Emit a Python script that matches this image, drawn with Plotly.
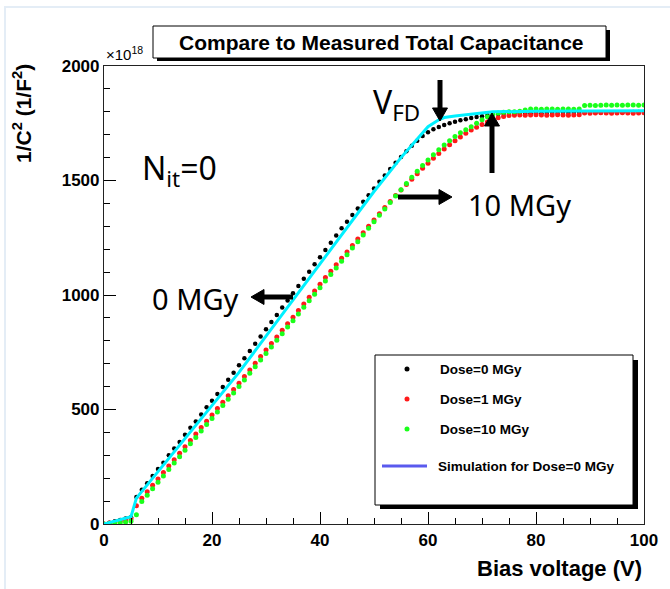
import plotly.graph_objects as go

# ---------------- data ----------------
voltage = list(range(0, 101))

dose0 = [0, 6, 12, 18, 24, 30, 118, 150, 178, 210, 240, 268, 300, 330, 358, 390, 420, 448, 478, 510,
         538, 568, 598, 630, 661, 693, 724, 756, 787, 819, 850, 882, 913, 945, 976, 1008, 1039, 1071,
         1102, 1134, 1165, 1197, 1228, 1260, 1291, 1320, 1349, 1378, 1407, 1436, 1465, 1494, 1522,
         1550, 1577, 1603, 1628, 1652, 1674, 1694, 1711, 1724, 1734, 1742, 1750, 1757, 1763, 1768,
         1773, 1777, 1781, 1785, 1788, 1790, 1791, 1792, 1792, 1793, 1793, 1794, 1794, 1794, 1795,
         1795, 1795, 1796, 1796, 1796, 1796, 1797, 1797, 1797, 1797, 1798, 1798, 1798, 1798, 1798,
         1799, 1799, 1799]

dose1 = [0, 4, 8, 12, 16, 22, 80, 112, 141, 169, 197, 225, 253, 281, 309, 337, 365, 393, 421, 449,
         476, 504, 532, 560, 587, 615, 644, 673, 702, 731, 760, 788, 817, 846, 875, 903, 932, 961,
         990, 1018, 1047, 1076, 1104, 1132, 1160, 1188, 1216, 1244, 1272, 1300, 1328, 1355, 1382,
         1408, 1434, 1458, 1482, 1506, 1530, 1553, 1575, 1597, 1618, 1638, 1656, 1674, 1690, 1706,
         1720, 1733, 1745, 1756, 1766, 1774, 1780, 1784, 1785, 1786, 1785, 1786, 1787, 1786, 1785,
         1786, 1787, 1786, 1785, 1786, 1787, 1795, 1794, 1795, 1796, 1795, 1794, 1795, 1796, 1795,
         1794, 1795, 1796]

dose10 = [0, 2, 4, 6, 8, 12, 40, 98, 126, 154, 182, 210, 238, 266, 294, 322, 350, 378, 406, 434,
          461, 489, 517, 545, 572, 600, 629, 658, 687, 716, 745, 773, 802, 831, 860, 888, 917, 946,
          975, 1003, 1032, 1061, 1090, 1118, 1147, 1176, 1205, 1233, 1262, 1291, 1320, 1348, 1376,
          1404, 1432, 1460, 1487, 1514, 1540, 1565, 1590, 1612, 1634, 1655, 1674, 1692, 1708, 1722,
          1735, 1750, 1765, 1778, 1788, 1795, 1798, 1800, 1800, 1802, 1808, 1812, 1812, 1811, 1812,
          1812, 1811, 1812, 1812, 1811, 1812, 1828, 1829, 1828, 1829, 1830, 1829, 1830, 1829, 1830,
          1830, 1829, 1830]

sim_v = [0, 5, 6, 10, 15, 20, 25, 30, 35, 40, 45, 50, 55, 60, 62, 63, 65, 70, 72, 80, 90, 100]
sim_val = [0, 32, 113, 228, 372, 516, 662, 820, 978, 1136, 1294, 1452, 1600, 1735, 1765, 1775,
           1782, 1796, 1800, 1802, 1804, 1805]

legend_labels = ["Dose=0 MGy", "Dose=1 MGy", "Dose=10 MGy", "Simulation for Dose=0 MGy"]

# ---------------- geometry helpers (layout only) ----------------
W, H = 670, 589
L, R, T, B = 104, 644, 66, 524


def px(x):
    return (x - L) / (R - L)


def py(y):
    return (B - y) / (B - T)


fig = go.Figure()
fig.add_trace(go.Scatter(x=voltage, y=dose0, mode="markers", name=legend_labels[0],
                         marker=dict(color="black", size=4.5)))
fig.add_trace(go.Scatter(x=voltage, y=dose1, mode="markers", name=legend_labels[1],
                         marker=dict(color="#ff1a1a", size=5)))
fig.add_trace(go.Scatter(x=voltage, y=dose10, mode="markers", name=legend_labels[2],
                         marker=dict(color="#1aff1a", size=5)))
fig.add_trace(go.Scatter(x=sim_v, y=sim_val, mode="lines", name=legend_labels[3],
                         line=dict(color="#00f0ff", width=3)))

tickfont = dict(family="Liberation Sans", size=17, color="black", weight="bold")

fig.update_layout(
    width=W, height=H,
    margin=dict(l=L, r=W - R, t=T, b=H - B),
    paper_bgcolor="white", plot_bgcolor="white",
    showlegend=False,
    xaxis=dict(range=[0, 100], dtick=20, tick0=0, ticks="inside", ticklen=12, tickwidth=1,
               tickcolor="black", showgrid=False, zeroline=False, showline=True,
               linecolor="#222", linewidth=1.2, mirror=True, tickfont=tickfont,
               minor=dict(dtick=5, ticks="inside", ticklen=6, tickcolor="black", showgrid=False)),
    yaxis=dict(range=[0, 2000], dtick=500, tick0=0, ticks="inside", ticklen=12, tickwidth=1,
               tickcolor="black", showgrid=False, zeroline=False, showline=True,
               linecolor="#222", linewidth=1.2, mirror=True, tickfont=tickfont,
               minor=dict(dtick=100, ticks="inside", ticklen=6, tickcolor="black", showgrid=False)),
)

shapes = []
annos = []

# faint outer canvas border
shapes.append(dict(type="rect", xref="paper", yref="paper", x0=px(5), x1=px(672), y0=py(7), y1=py(592),
                   line=dict(color="#e4edf6", width=2), fillcolor="rgba(0,0,0,0)", layer="below"))

# title box with shadow
shapes.append(dict(type="rect", xref="paper", yref="paper", x0=px(157), x1=px(610), y0=py(30), y1=py(61),
                   line=dict(width=0), fillcolor="black"))
shapes.append(dict(type="rect", xref="paper", yref="paper", x0=px(153), x1=px(606), y0=py(26), y1=py(58),
                   line=dict(color="black", width=1), fillcolor="white"))
annos.append(dict(xref="paper", yref="paper", x=px(381), y=py(42), text="Compare to Measured Total Capacitance",
                  showarrow=False, xanchor="center", yanchor="middle",
                  font=dict(family="Liberation Sans", size=21, color="black", weight="bold")))

# exponent
annos.append(dict(xref="paper", yref="paper", x=px(104), y=py(65), text="×10<sup>18</sup>",
                  showarrow=False, xanchor="left", yanchor="bottom",
                  font=dict(family="Liberation Sans", size=15, color="black")))

# axis titles
annos.append(dict(xref="paper", yref="paper", x=px(22), y=py(114), text="1/C<sup>2</sup> (1/F<sup>2</sup>)",
                  showarrow=False, textangle=-90, xanchor="center", yanchor="middle",
                  font=dict(family="Liberation Sans", size=21, color="black", weight="bold")))
annos.append(dict(xref="paper", yref="paper", x=px(644), y=py(568), text="Bias voltage (V)",
                  showarrow=False, xanchor="right", yanchor="middle",
                  font=dict(family="Liberation Sans", size=22, color="black", weight="bold")))

# legend (drawn manually, ROOT-style box with shadow)
shapes.append(dict(type="rect", xref="paper", yref="paper", x0=px(380), x1=px(638), y0=py(360), y1=py(509),
                   line=dict(width=0), fillcolor="black"))
shapes.append(dict(type="rect", xref="paper", yref="paper", x0=px(375), x1=px(633), y0=py(355), y1=py(505),
                   line=dict(color="black", width=1), fillcolor="white"))
leg_cols = ["black", "#ff1a1a", "#1aff1a"]
leg_y = [369, 399, 429]
for c, yy, lab in zip(leg_cols, leg_y, legend_labels[:3]):
    shapes.append(dict(type="circle", xref="paper", yref="paper", x0=px(404.5), x1=px(409.5),
                       y0=py(yy - 2.5), y1=py(yy + 2.5), line=dict(width=0), fillcolor=c))
    annos.append(dict(xref="paper", yref="paper", x=px(438), y=py(yy), text=lab, showarrow=False,
                      xanchor="left", yanchor="middle",
                      font=dict(family="Liberation Sans", size=13.5, color="black", weight="bold")))
shapes.append(dict(type="line", xref="paper", yref="paper", x0=px(382), x1=px(427), y0=py(466), y1=py(466),
                   line=dict(color="#5a5aee", width=3)))
annos.append(dict(xref="paper", yref="paper", x=px(436), y=py(466), text=legend_labels[3], showarrow=False,
                  xanchor="left", yanchor="middle",
                  font=dict(family="Liberation Sans", size=13.5, color="black", weight="bold")))

# handwritten-style annotations
hand = dict(family="Comic Sans MS, Noto Sans, sans-serif", color="black")
annos.append(dict(xref="paper", yref="paper", x=px(371), y=py(104), text="V<sub>FD</sub>", showarrow=False,
                  xanchor="left", yanchor="middle", font=dict(size=32, **hand)))
annos.append(dict(xref="paper", yref="paper", x=px(140), y=py(170), text="N<sub>it</sub>=0", showarrow=False,
                  xanchor="left", yanchor="middle", font=dict(size=32, **hand)))
annos.append(dict(xref="paper", yref="paper", x=px(150), y=py(298), text="0 MGy", showarrow=False,
                  xanchor="left", yanchor="middle", font=dict(size=29, **hand)))
annos.append(dict(xref="paper", yref="paper", x=px(466), y=py(204), text="10 MGy", showarrow=False,
                  xanchor="left", yanchor="middle", font=dict(size=29, **hand)))


# arrows drawn as shapes (shaft + triangular head), pixel geometry
def arrow_shapes(x_tail, y_tail, x_tip, y_tip, head_len=13, head_half=7.5, width=5):
    dx, dy = x_tip - x_tail, y_tip - y_tail
    n = (dx * dx + dy * dy) ** 0.5
    ux, uy = dx / n, dy / n
    bx, by = x_tip - ux * head_len, y_tip - uy * head_len
    nx, ny = -uy, ux
    out = [dict(type="line", xref="paper", yref="paper", x0=px(x_tail), y0=py(y_tail),
                x1=px(bx + ux), y1=py(by + uy), line=dict(color="black", width=width))]
    p1 = (px(bx + nx * head_half), py(by + ny * head_half))
    p2 = (px(bx - nx * head_half), py(by - ny * head_half))
    p3 = (px(x_tip), py(y_tip))
    path = "M {:.5f},{:.5f} L {:.5f},{:.5f} L {:.5f},{:.5f} Z".format(*p1, *p2, *p3)
    out.append(dict(type="path", xref="paper", yref="paper", path=path,
                    fillcolor="black", line=dict(color="black", width=1)))
    return out


shapes += arrow_shapes(440, 80, 440, 121)     # V_FD down arrow
shapes += arrow_shapes(492, 173, 492, 113)    # 10 MGy up arrow
shapes += arrow_shapes(398, 197, 452, 197)    # right arrow
shapes += arrow_shapes(293, 297, 251, 297)    # left arrow

fig.update_layout(shapes=shapes, annotations=annos)
fig.write_html("out.html")
